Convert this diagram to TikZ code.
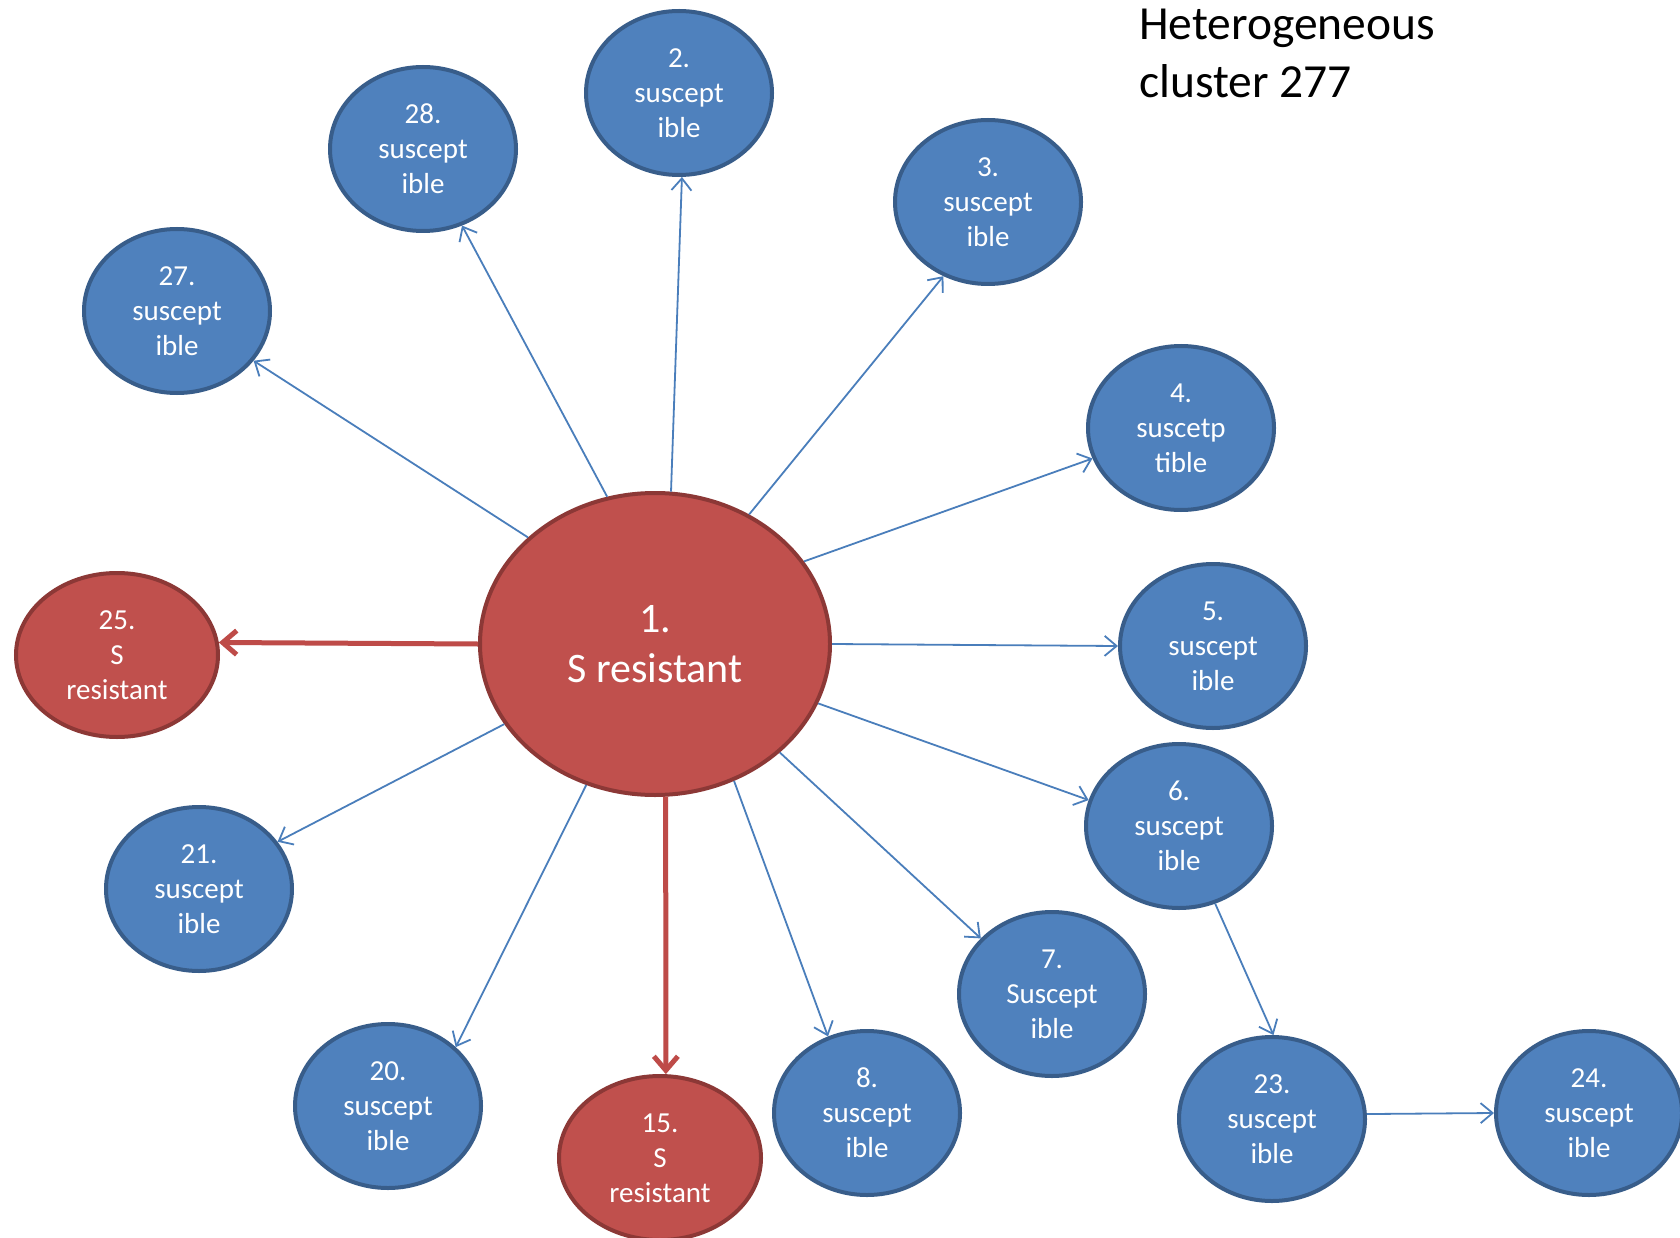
\documentclass[tikz,border=0pt]{standalone}
\usepackage{fontspec}
\setmainfont{Carlito}
\usetikzlibrary{shapes.geometric,arrows.meta}
\definecolor{bfill}{HTML}{4F81BD}
\definecolor{bdraw}{HTML}{385D8A}
\definecolor{rfill}{HTML}{C0504D}
\definecolor{rdraw}{HTML}{8C3836}
\definecolor{bline}{HTML}{4A7EBB}
\definecolor{rline}{HTML}{BE4B48}
\begin{document}
\begin{tikzpicture}[x=1pt,y=-1pt,
  bnode/.style={ellipse, fill=bfill, draw=bdraw, line width=4pt, minimum width=186pt, minimum height=164pt, inner sep=0pt, align=center, text=white, font=\fontsize{29}{35}\selectfont},
  rnode/.style={bnode, fill=rfill, draw=rdraw, minimum width=202pt},
  bigr/.style={rnode, minimum width=350pt, minimum height=302pt, font=\fontsize{42}{50}\selectfont},
  barrow/.style={draw=bline, line width=1.8pt, -{Straight Barb[length=12pt,width=20pt]}},
  rarrow/.style={draw=rline, line width=5pt, -{Straight Barb[length=14pt,width=24pt]}},
  title/.style={anchor=north west, inner sep=0pt, align=left, font=\fontsize{47.5}{58}\selectfont}
]
\useasboundingbox (0,0) rectangle (1680,1238);
\fill[white] (0,0) rectangle (1680,1238);

\node[bigr] (n1) at (655,644) {1.\\S resistant};
\node[bnode] (n2) at (679,93) {2.\\suscept\\ible};
\node[bnode] (n28) at (423,149) {28.\\suscept\\ible};
\node[bnode] (n3) at (988,202) {3.\\suscept\\ible};
\node[bnode] (n27) at (177,311) {27.\\suscept\\ible};
\node[bnode] (n4) at (1181,428) {4.\\suscetp\\tible};
\node[rnode] (n25) at (117,655) {25.\\S\\resistant};
\node[bnode] (n5) at (1213,646) {5.\\suscept\\ible};
\node[bnode] (n6) at (1179,826) {6.\\suscept\\ible};
\node[bnode] (n21) at (199,889) {21.\\suscept\\ible};
\node[bnode] (n7) at (1052,994) {7.\\Suscept\\ible};
\node[bnode] (n20) at (388,1106) {20.\\suscept\\ible};
\node[rnode] (n15) at (660,1158) {15.\\S\\resistant};
\node[bnode] (n8) at (867,1113) {8.\\suscept\\ible};
\node[bnode] (n23) at (1272,1119) {23.\\suscept\\ible};
\node[bnode] (n24) at (1589,1113) {24.\\suscept\\ible};

\node[title] (t) at (1139,9) {Heterogeneous\\cluster 277};

\draw[barrow] (n1.84) -- (n2.-88);
\draw[barrow] (n1.108) -- (n28.-63);
\draw[barrow] (n1.140) -- (n27.-33);
\draw[barrow] (n1.54) -- (n3.-121);
\draw[barrow] (n1.29) -- (n4.199);
\draw[barrow] (n1.0) -- (n5.180);
\draw[barrow] (n1.-20) -- (n6.164);
\draw[barrow] (n1.-41) -- (n7.142);
\draw[barrow] (n1.-60) -- (n8.117);
\draw[barrow] (n1.-116) -- (n20.41);
\draw[barrow] (n1.-152) -- (n21.31);
\draw[rarrow] (n1.-86) -- (n15.86);
\draw[rarrow] (n1.180) -- (n25.7);
\draw[barrow] (n6.-65) -- (n23.89);
\draw[barrow] (n23.3) -- (n24.180);
\end{tikzpicture}
\end{document}
